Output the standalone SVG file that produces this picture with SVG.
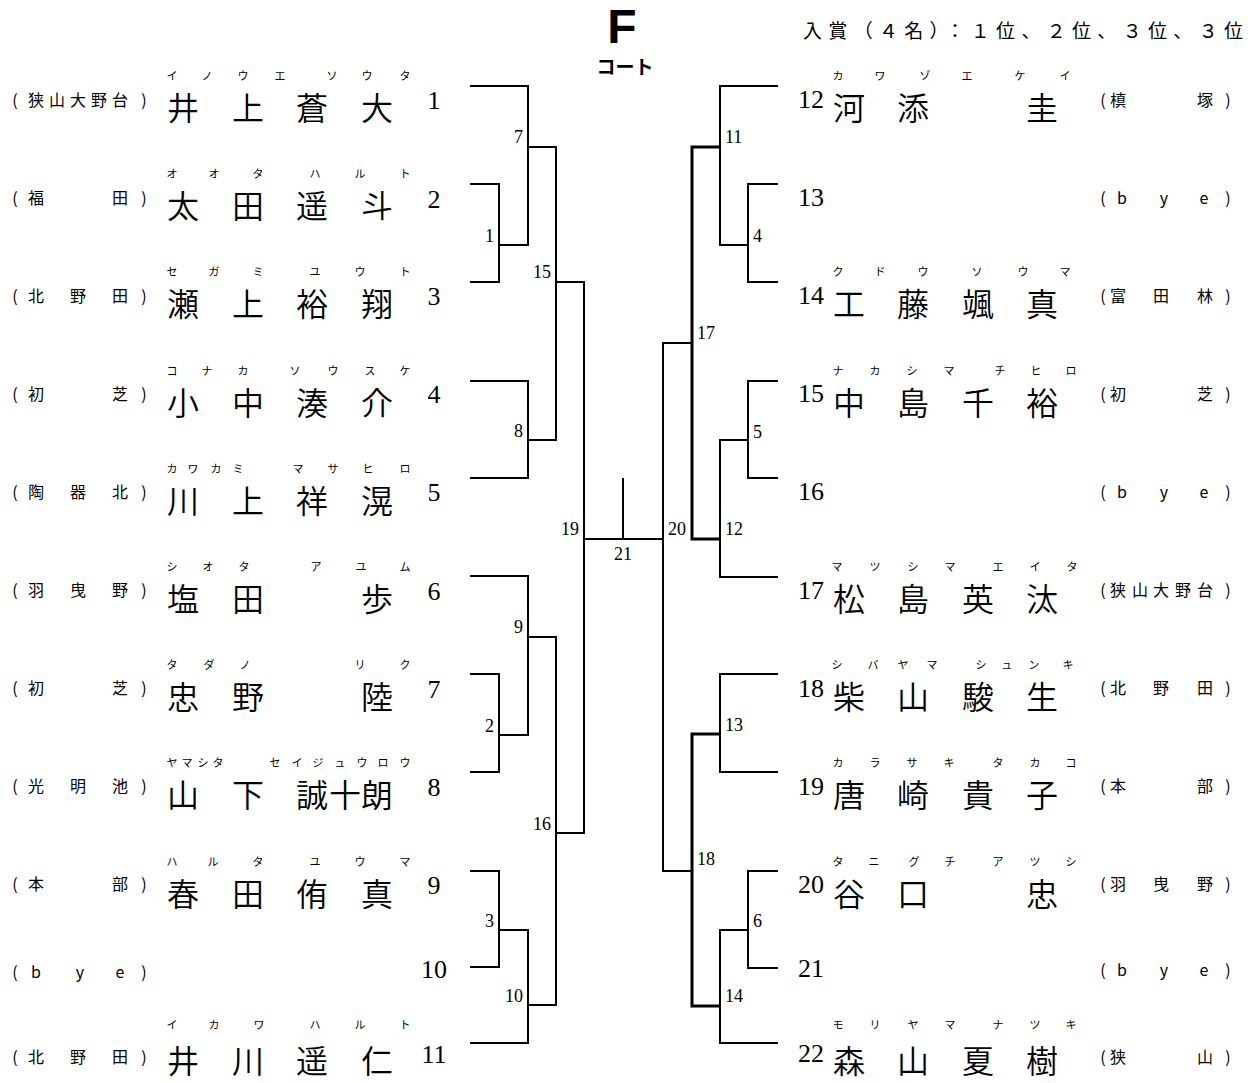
<svg xmlns="http://www.w3.org/2000/svg" width="1256" height="1083" viewBox="0 0 1256 1083">
<style>
.ln{stroke:#000;stroke-width:2;fill:none}
.tk{stroke-width:3}
text{fill:#000}
.kj{font-family:"Noto Sans CJK JP DemiLight","Noto Sans CJK JP",sans-serif;font-weight:300;font-size:32px;text-anchor:middle}
.fr{font-family:"Noto Sans CJK JP",sans-serif;font-size:11px;text-anchor:middle}
.lb{font-family:"Noto Sans CJK JP",sans-serif;font-size:16px;text-anchor:middle}
.no{font-family:"Liberation Serif",serif;font-size:26px;text-anchor:middle}
.mn{font-family:"Liberation Serif",serif;font-size:18px}
.mnl{text-anchor:end}
.mnr{text-anchor:start}
</style>
<rect width="1256" height="1083" fill="#fff"/>
<g id="header">
<text x="622" y="43" font-family="Liberation Sans,sans-serif" font-weight="bold" font-size="48" text-anchor="middle">F</text>
<text x="625" y="74" font-family="Noto Sans CJK JP,sans-serif" font-weight="bold" font-size="19" text-anchor="middle">コート</text>
<text x="803" y="38" font-family="Noto Sans CJK JP,sans-serif" font-size="19" textLength="440" lengthAdjust="spacing">入賞（４名）：１位、２位、３位、３位</text>
</g>
<g id="connectors">
<path class="ln" d="M470,86H528V245H499M470,184H499V282H470M528,147H556V440H528M470,381H528V478H470M556,282H584V833H556M470,576H528V735H499M470,674H499V772H470M528,637H556V1005H528M470,871H499V967H470M499,930H528V1043H470"/>
<path class="ln" d="M584,539H663M623,478V539"/>
<path class="ln" d="M778,86H720V245H748M778,184H748V282H778M778,381H748V478H778M748,440H720V577H778M692,343H663V871H692M778,674H720V772H778M778,871H748V968H778M748,930H720V1043H778"/>
<path class="ln tk" d="M720,147H692V539H720M720,734H692V1006H720"/>
</g>
<g id="match-numbers" class="mn">
<text class="mn mnl" x="494" y="242">1</text>
<text class="mn mnl" x="494" y="732">2</text>
<text class="mn mnl" x="494" y="927">3</text>
<text class="mn mnl" x="523" y="143">7</text>
<text class="mn mnl" x="523" y="437">8</text>
<text class="mn mnl" x="523" y="633">9</text>
<text class="mn mnl" x="523" y="1002">10</text>
<text class="mn mnl" x="551" y="278">15</text>
<text class="mn mnl" x="551" y="830">16</text>
<text class="mn mnl" x="579" y="535">19</text>
<text class="mn" x="623" y="560" text-anchor="middle">21</text>
<text class="mn mnr" x="668" y="535">20</text>
<text class="mn mnr" x="753" y="242">4</text>
<text class="mn mnr" x="753" y="438">5</text>
<text class="mn mnr" x="753" y="927">6</text>
<text class="mn mnr" x="725" y="143">11</text>
<text class="mn mnr" x="725" y="535">12</text>
<text class="mn mnr" x="725" y="731">13</text>
<text class="mn mnr" x="725" y="1002">14</text>
<text class="mn mnr" x="697" y="339">17</text>
<text class="mn mnr" x="697" y="865">18</text>
</g>
<g id="entry-1">
<text class="lb" x="15" y="106">(</text><text class="lb" x="36 57 78 99 120" y="106">狭山大野台</text><text class="lb" x="144" y="106">)</text>
<text class="fr" x="172 207 243 280 332 367 405" y="80">イノウエソウタ</text>
<text class="kj" x="183 248 312 377" y="120">井上蒼大</text>
<text class="no" x="434" y="109">1</text>
</g>
<g id="entry-2">
<text class="lb" x="15" y="204">(</text><text class="lb" x="36 120" y="204">福田</text><text class="lb" x="144" y="204">)</text>
<text class="fr" x="172 214 258 315 360 405" y="178">オオタハルト</text>
<text class="kj" x="183 248 312 377" y="218">太田遥斗</text>
<text class="no" x="434" y="208">2</text>
</g>
<g id="entry-3">
<text class="lb" x="15" y="302">(</text><text class="lb" x="36 78 120" y="302">北野田</text><text class="lb" x="144" y="302">)</text>
<text class="fr" x="172 214 258 315 360 405" y="276">セガミユウト</text>
<text class="kj" x="183 248 312 377" y="316">瀬上裕翔</text>
<text class="no" x="434" y="305">3</text>
</g>
<g id="entry-4">
<text class="lb" x="15" y="400">(</text><text class="lb" x="36 120" y="400">初芝</text><text class="lb" x="144" y="400">)</text>
<text class="fr" x="172 207 243 295 333 370 405" y="375">コナカソウスケ</text>
<text class="kj" x="183 248 312 377" y="415">小中湊介</text>
<text class="no" x="434" y="403">4</text>
</g>
<g id="entry-5">
<text class="lb" x="15" y="498">(</text><text class="lb" x="36 78 120" y="498">陶器北</text><text class="lb" x="144" y="498">)</text>
<text class="fr" x="172 193 216 238 298 333 368 405" y="473">カワカミマサヒロ</text>
<text class="kj" x="183 248 312 377" y="513">川上祥滉</text>
<text class="no" x="434" y="501">5</text>
</g>
<g id="entry-6">
<text class="lb" x="15" y="596">(</text><text class="lb" x="36 78 120" y="596">羽曳野</text><text class="lb" x="144" y="596">)</text>
<text class="fr" x="172 208 244 316 361 405" y="571">シオタアユム</text>
<text class="kj" x="183 248 377" y="611">塩田歩</text>
<text class="no" x="434" y="600">6</text>
</g>
<g id="entry-7">
<text class="lb" x="15" y="694">(</text><text class="lb" x="36 120" y="694">初芝</text><text class="lb" x="144" y="694">)</text>
<text class="fr" x="172 209 245 360 405" y="669">タダノリク</text>
<text class="kj" x="183 248 377" y="709">忠野陸</text>
<text class="no" x="434" y="698">7</text>
</g>
<g id="entry-8">
<text class="lb" x="15" y="792">(</text><text class="lb" x="36 78 120" y="792">光明池</text><text class="lb" x="144" y="792">)</text>
<text class="fr" x="172 187 203 218 275 297 318 340 362 383 405" y="767">ヤマシタセイジュウロウ</text>
<text class="kj" x="183 248 312 345 377" y="807">山下誠十朗</text>
<text class="no" x="434" y="796">8</text>
</g>
<g id="entry-9">
<text class="lb" x="15" y="890">(</text><text class="lb" x="36 120" y="890">本部</text><text class="lb" x="144" y="890">)</text>
<text class="fr" x="172 213 258 315 360 405" y="866">ハルタユウマ</text>
<text class="kj" x="183 248 312 377" y="906">春田侑真</text>
<text class="no" x="434" y="894">9</text>
</g>
<g id="entry-10">
<text class="lb" x="15" y="978">(</text><text class="lb" x="36 80 120" y="978">bye</text><text class="lb" x="144" y="978">)</text>
<text class="no" x="434" y="978">10</text>
</g>
<g id="entry-11">
<text class="lb" x="15" y="1063">(</text><text class="lb" x="36 78 120" y="1063">北野田</text><text class="lb" x="144" y="1063">)</text>
<text class="fr" x="172 214 259 315 360 405" y="1029">イカワハルト</text>
<text class="kj" x="183 248 312 377" y="1073">井川遥仁</text>
<text class="no" x="434" y="1063">11</text>
</g>
<g id="entry-12">
<text class="no" x="811" y="108">12</text>
<text class="fr" x="838 880 925 967 1020 1065" y="80">カワゾエケイ</text>
<text class="kj" x="849 913 1042" y="120">河添圭</text>
<text class="lb" x="1103" y="106">(</text><text class="lb" x="1118 1205" y="106">槙塚</text><text class="lb" x="1228" y="106">)</text>
</g>
<g id="entry-13">
<text class="no" x="811" y="206">13</text>
<text class="lb" x="1103" y="204">(</text><text class="lb" x="1122 1164 1204" y="204">bye</text><text class="lb" x="1228" y="204">)</text>
</g>
<g id="entry-14">
<text class="no" x="811" y="304">14</text>
<text class="fr" x="838 880 923 977 1023 1065" y="276">クドウソウマ</text>
<text class="kj" x="849 913 978 1042" y="316">工藤颯真</text>
<text class="lb" x="1103" y="302">(</text><text class="lb" x="1118 1161 1205" y="302">富田林</text><text class="lb" x="1228" y="302">)</text>
</g>
<g id="entry-15">
<text class="no" x="811" y="402">15</text>
<text class="fr" x="838 875 912 949 1000 1036 1071" y="375">ナカシマチヒロ</text>
<text class="kj" x="849 913 978 1042" y="415">中島千裕</text>
<text class="lb" x="1103" y="400">(</text><text class="lb" x="1118 1205" y="400">初芝</text><text class="lb" x="1228" y="400">)</text>
</g>
<g id="entry-16">
<text class="no" x="811" y="500">16</text>
<text class="lb" x="1103" y="498">(</text><text class="lb" x="1122 1164 1204" y="498">bye</text><text class="lb" x="1228" y="498">)</text>
</g>
<g id="entry-17">
<text class="no" x="811" y="599">17</text>
<text class="fr" x="837 875 913 950 998 1035 1072" y="571">マツシマエイタ</text>
<text class="kj" x="849 913 978 1042" y="611">松島英汰</text>
<text class="lb" x="1103" y="596">(</text><text class="lb" x="1118 1140 1161 1183 1205" y="596">狭山大野台</text><text class="lb" x="1228" y="596">)</text>
</g>
<g id="entry-18">
<text class="no" x="811" y="697">18</text>
<text class="fr" x="837 873 903 932 981 1007 1034 1068" y="669">シバヤマシュンキ</text>
<text class="kj" x="849 913 978 1042" y="709">柴山駿生</text>
<text class="lb" x="1103" y="694">(</text><text class="lb" x="1118 1161 1205" y="694">北野田</text><text class="lb" x="1228" y="694">)</text>
</g>
<g id="entry-19">
<text class="no" x="811" y="795">19</text>
<text class="fr" x="838 875 912 949 998 1035 1071" y="767">カラサキタカコ</text>
<text class="kj" x="849 913 978 1042" y="807">唐崎貴子</text>
<text class="lb" x="1103" y="792">(</text><text class="lb" x="1118 1205" y="792">本部</text><text class="lb" x="1228" y="792">)</text>
</g>
<g id="entry-20">
<text class="no" x="811" y="893">20</text>
<text class="fr" x="838 874 914 950 998 1035 1071" y="866">タニグチアツシ</text>
<text class="kj" x="849 913 1042" y="906">谷口忠</text>
<text class="lb" x="1103" y="890">(</text><text class="lb" x="1118 1161 1205" y="890">羽曳野</text><text class="lb" x="1228" y="890">)</text>
</g>
<g id="entry-21">
<text class="no" x="811" y="977">21</text>
<text class="lb" x="1103" y="976">(</text><text class="lb" x="1122 1164 1204" y="976">bye</text><text class="lb" x="1228" y="976">)</text>
</g>
<g id="entry-22">
<text class="no" x="811" y="1062">22</text>
<text class="fr" x="838 875 913 950 998 1035 1071" y="1029">モリヤマナツキ</text>
<text class="kj" x="849 913 978 1042" y="1073">森山夏樹</text>
<text class="lb" x="1103" y="1063">(</text><text class="lb" x="1118 1205" y="1063">狭山</text><text class="lb" x="1228" y="1063">)</text>
</g>
</svg>
